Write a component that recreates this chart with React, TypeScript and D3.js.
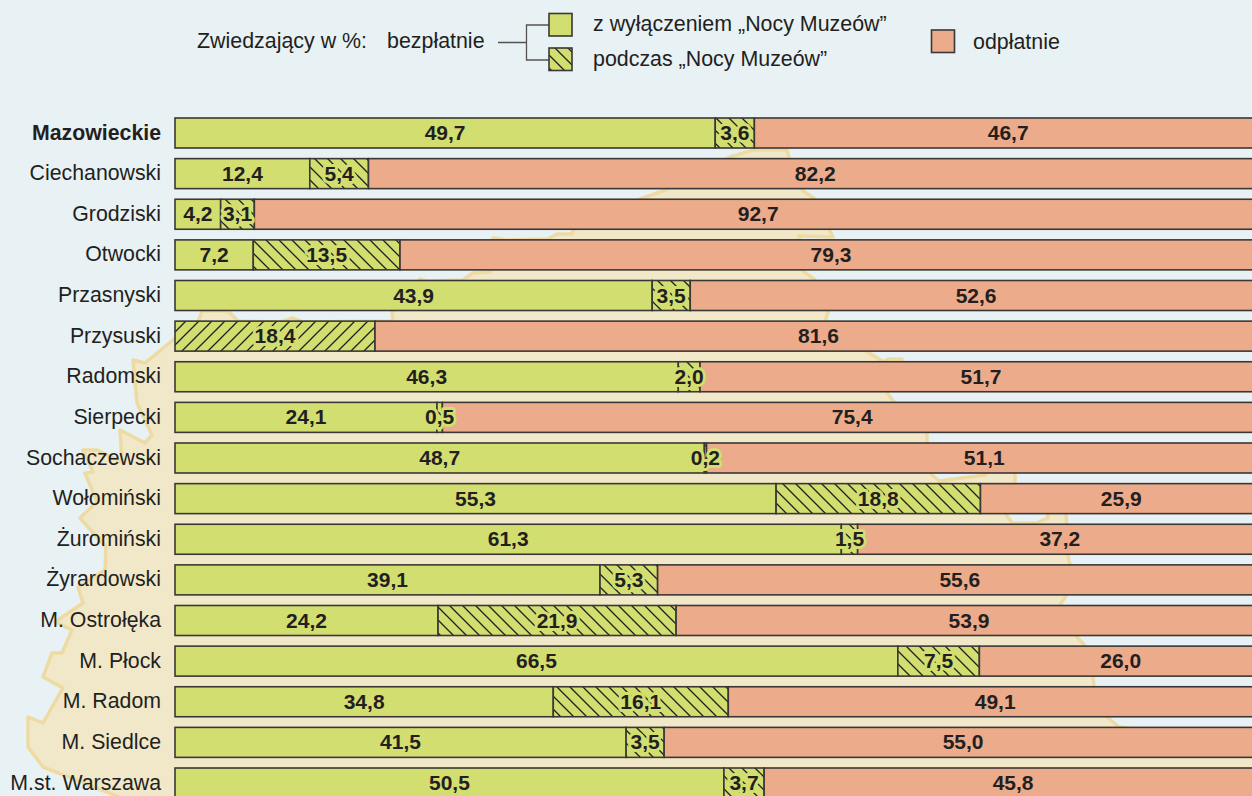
import { useEffect, useRef } from "react";
import * as d3 from "d3";

const categories = [
    "Mazowieckie", "Ciechanowski", "Grodziski", "Otwocki", "Przasnyski", "Przysuski",
    "Radomski", "Sierpecki", "Sochaczewski", "Wołomiński", "Żuromiński", "Żyrardowski",
    "M. Ostrołęka", "M. Płock", "M. Radom", "M. Siedlce", "M.st. Warszawa",
];
const freeRegular = [49.7, 12.4, 4.2, 7.2, 43.9, 0, 46.3, 24.1, 48.7, 55.3, 61.3, 39.1, 24.2, 66.5, 34.8, 41.5, 50.5];
const freeNight = [3.6, 5.4, 3.1, 13.5, 3.5, 18.4, 2.0, 0.5, 0.2, 18.8, 1.5, 5.3, 21.9, 7.5, 16.1, 3.5, 3.7];
const paid = [46.7, 82.2, 92.7, 79.3, 52.6, 81.6, 51.7, 75.4, 51.1, 25.9, 37.2, 55.6, 53.9, 26.0, 49.1, 55.0, 45.8];
const forwardHatch = ["Przysuski"];

// Outline of the voivodeship behind the bars
const mapOutline: [number, number][] = [
    [127, 800], [43, 767], [28, 747], [28, 717], [43, 723], [63, 688], [43, 677], [52, 653], [62, 653],
    [72, 630], [55, 622], [83, 603], [78, 587], [105, 570], [106, 547], [80, 518], [97, 502], [85, 473],
    [93, 472], [83, 450], [97, 450], [122, 462], [120, 430], [145, 443], [152, 435], [137, 403], [133, 360],
    [145, 363], [173, 340], [199, 320], [202, 311], [228, 311], [238, 321], [280, 322], [293, 318], [303, 322],
    [393, 321], [392, 312], [420, 279], [427, 281], [463, 280], [473, 273], [490, 272], [493, 238], [507, 240],
    [548, 239], [557, 234], [572, 234], [573, 230], [640, 199], [663, 191], [730, 157], [753, 150], [787, 150],
    [789, 158], [803, 191], [815, 199], [830, 231], [833, 237], [799, 236], [803, 271], [815, 280], [828, 312],
    [825, 322], [869, 353], [884, 362], [888, 359], [902, 359], [902, 364], [887, 393], [895, 403], [927, 433],
    [927, 468], [932, 475], [939, 481], [985, 475], [990, 465], [1015, 470], [1015, 484], [1005, 512], [1008, 517],
    [1012, 523], [1036, 523], [1048, 518], [1047, 512], [1066, 512], [1068, 556], [1070, 565], [1066, 596],
    [1059, 606], [1077, 637], [1086, 647], [1093, 677], [1094, 687], [1107, 717], [1119, 727], [1270, 750], [1270, 800],
];

const bgColor = "#e8f1f4";
const mapFill = "#f1e8c9";
const mapStroke = "#eedba3";
const green = "#d3de70";
const orange = "#ecab8a";
const ink = "#231f20";
const barStroke = "#3a3836";
const font = "'Liberation Sans', Arial, sans-serif";

export default function App() {
    const svgRef = useRef<SVGSVGElement>(null);

    useEffect(() => {
        if (!svgRef.current) return;
        const svg = d3.select(svgRef.current);
        svg.selectAll("*").remove();

        const defs = svg.append("defs");
        const hatch = (id: string, flip: boolean) => {
            const p = defs.append("pattern")
                .attr("id", id)
                .attr("patternUnits", "userSpaceOnUse")
                .attr("width", 13)
                .attr("height", 13);
            p.append("rect").attr("width", 13).attr("height", 13).attr("fill", green);
            p.append("path")
                .attr("d", flip ? "M-3,3 L3,-3 M0,13 L13,0 M10,16 L16,10" : "M-3,10 L3,16 M0,0 L13,13 M10,-3 L16,3")
                .attr("stroke", "#1f1f1c")
                .attr("stroke-width", 1.3);
        };
        hatch("hatchBack", false);
        hatch("hatchForward", true);

        // Map background
        svg.append("path")
            .attr("d", d3.line()(mapOutline))
            .attr("fill", mapFill)
            .attr("stroke", mapStroke)
            .attr("stroke-width", 3.5)
            .attr("stroke-linejoin", "round");

        const x = d3.scaleLinear().domain([0, 100]).range([175, 1262]);
        const y = d3.scaleBand<string>()
            .domain(categories)
            .range([118, 118 + 16 * 40.625 + 30])
            .paddingInner(10.625 / 40.625);

        const rows = categories.map((name, i) => ({ name, regular: freeRegular[i], night: freeNight[i], paid: paid[i] }));
        const stacked = d3.stack<any>().keys(["regular", "night", "paid"])(rows);

        const fillFor = (key: string, name: string) => {
            if (key === "regular") return green;
            if (key === "paid") return orange;
            return forwardHatch.includes(name) ? "url(#hatchForward)" : "url(#hatchBack)";
        };

        // Bars
        stacked.forEach((layer) => {
            svg.append("g")
                .selectAll("rect")
                .data(layer.filter((d) => d[1] > d[0]))
                .enter()
                .append("rect")
                .attr("x", (d) => x(d[0]))
                .attr("y", (d) => y(d.data.name)!)
                .attr("width", (d) => x(d[1]) - x(d[0]))
                .attr("height", y.bandwidth())
                .attr("fill", (d) => fillFor(layer.key, d.data.name))
                .attr("stroke", barStroke)
                .attr("stroke-width", 1.6);
        });

        // Value labels
        stacked.forEach((layer) => {
            const isNight = layer.key === "night";
            svg.append("g")
                .selectAll("text")
                .data(layer.filter((d) => d[1] > d[0]))
                .enter()
                .append("text")
                .attr("x", (d) => (x(d[0]) + x(d[1])) / 2)
                .attr("y", (d) => y(d.data.name)! + y.bandwidth() / 2 + 7)
                .attr("text-anchor", "middle")
                .attr("fill", ink)
                .style("font-family", font)
                .style("font-size", "21px")
                .style("font-weight", "700")
                .style("paint-order", "stroke")
                .style("stroke", isNight ? green : "none")
                .style("stroke-width", isNight ? 6 : 0)
                .style("stroke-linejoin", "round")
                .text((d) => (d[1] - d[0]).toFixed(1).replace(".", ","));
        });

        // Category labels
        svg.append("g")
            .selectAll("text")
            .data(categories)
            .enter()
            .append("text")
            .attr("x", 161)
            .attr("y", (d) => y(d)! + y.bandwidth() / 2 + 6.5)
            .attr("text-anchor", "end")
            .attr("fill", ink)
            .style("font-family", font)
            .style("font-size", "21.3px")
            .style("font-weight", (_, i) => (i === 0 ? "700" : "400"))
            .text((d) => d);

        // Legend
        const legendText = (tx: number, ty: number, t: string) =>
            svg.append("text")
                .attr("x", tx)
                .attr("y", ty)
                .attr("fill", ink)
                .style("font-family", font)
                .style("font-size", "21.4px")
                .text(t);
        legendText(197, 48, "Zwiedzający w %:");
        legendText(387, 48, "bezpłatnie");
        legendText(593, 31, "z wyłączeniem „Nocy Muzeów”");
        legendText(593, 66, "podczas „Nocy Muzeów”");
        legendText(973, 49, "odpłatnie");

        svg.append("path")
            .attr("d", "M498,42.5 H526.5 M549,25 H526.5 V60 H549")
            .attr("fill", "none")
            .attr("stroke", "#55534f")
            .attr("stroke-width", 1.3);

        const swatch = (sx: number, sy: number, fill: string) =>
            svg.append("rect")
                .attr("x", sx)
                .attr("y", sy)
                .attr("width", 23)
                .attr("height", 22.5)
                .attr("fill", fill)
                .attr("stroke", barStroke)
                .attr("stroke-width", 1.6);
        swatch(549, 13.5, green);
        swatch(549, 48, "url(#hatchBack)");
        swatch(931.5, 30, orange);
    }, []);

    return (
        <svg
            ref={svgRef}
            width={1252}
            height={796}
            style={{ position: "absolute", left: 0, top: 0, display: "block", background: bgColor }}
        />
    );
}
